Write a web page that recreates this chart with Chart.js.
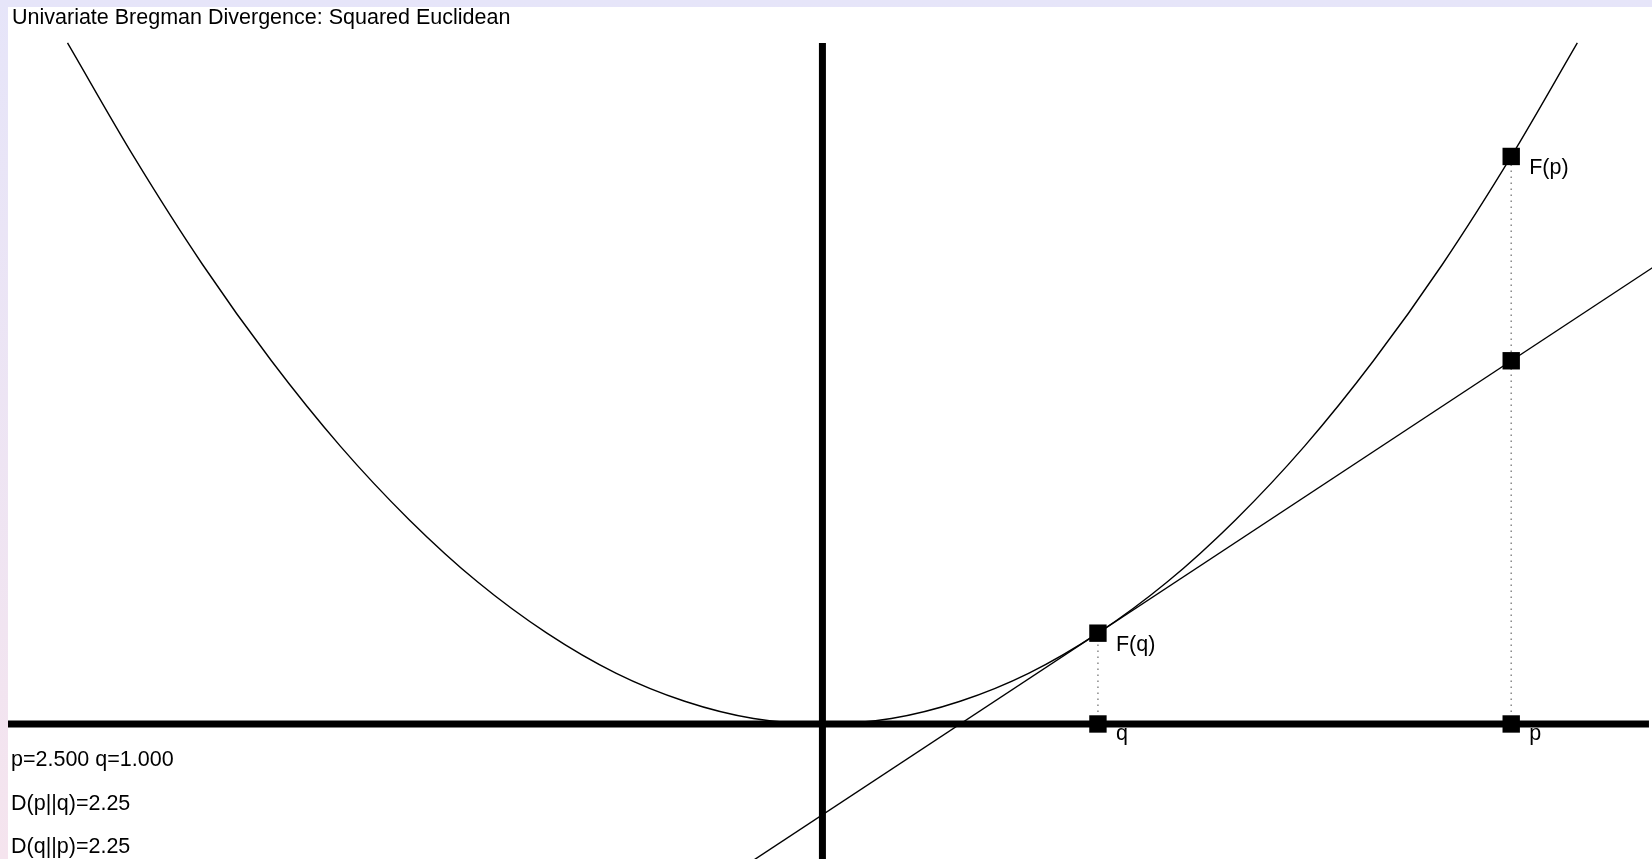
<!DOCTYPE html>
<html>
<head>
<meta charset="utf-8">
<script src="https://cdn.jsdelivr.net/npm/chart.js@4.4.1/dist/chart.umd.min.js"></script>
<style>
  html, body { margin: 0; padding: 0; width: 1652px; height: 859px; overflow: hidden; }
  body { background: linear-gradient(to bottom, #e6e5f9, #f5e4ee); }
  #chart { position: absolute; left: 8px; top: 7px; background: #fff; }
</style>
</head>
<body>
<canvas id="chart" width="1644" height="852"></canvas>
<script>
// F(x) = x^2
const curveX = [-2.74, -2.5, -2.25, -2, -1.75, -1.5, -1.25, -1, -0.75, -0.5, -0.25, 0,
                0.25, 0.5, 0.75, 1, 1.25, 1.5, 1.75, 2, 2.25, 2.5, 2.74];
const curveY = [7.5, 6.25, 5.06, 4.0, 3.06, 2.25, 1.56, 1.0, 0.56, 0.25, 0.06, 0,
                0.06, 0.25, 0.56, 1.0, 1.56, 2.25, 3.06, 4.0, 5.06, 6.25, 7.5];

// tangent at q
const tangentX = [-0.5, 3.5];
const tangentY = [-2.0, 6.0];

// axes
const axisHX = [-3.0, 3.0];
const axisVY = [7.5, -1.6];

// points
const pVal = 2.5, qVal = 1.0;
const markerX = [qVal, qVal, pVal, pVal, pVal];
const markerY = [0, 1.0, 0, 4.0, 6.25];
const markerLabels = ['q', 'F(q)', 'p', '', 'F(p)'];

const titleText = 'Univariate Bregman Divergence: Squared Euclidean';
const statLines = ['p=2.500 q=1.000', 'D(p||q)=2.25', 'D(q||p)=2.25'];

function pts(xs, ys) {
  return xs.map((x, i) => ({ x: x, y: ys[i] }));
}

const textPlugin = {
  id: 'texts',
  afterDatasetsDraw(chart) {
    const ctx = chart.ctx;
    ctx.save();
    ctx.fillStyle = '#000';
    ctx.font = '21.5px "Liberation Sans", Arial, sans-serif';
    ctx.textBaseline = 'alphabetic';
    ctx.textAlign = 'left';
    ctx.fillText(titleText, 4, 17);
    statLines.forEach((s, i) => ctx.fillText(s, 3, 759 + i * 43.5));
    const meta = chart.getDatasetMeta(0);
    meta.data.forEach((el, i) => {
      const lab = markerLabels[i];
      if (!lab) return;
      const dy = lab.startsWith('F') ? 18 : 16;
      ctx.fillText(lab, el.x + 18, el.y + dy);
    });
    ctx.restore();
  }
};

const line = { showLine: true, pointRadius: 0, borderColor: '#000', fill: false };

let context = document.querySelector('#chart').getContext('2d');
new Chart(context, {
  type: 'scatter',
  data: {
    datasets: [
      { data: pts(markerX, markerY), pointStyle: 'rect', pointRadius: 12.3,
        backgroundColor: '#000', borderWidth: 0, showLine: false, order: 0 },
      Object.assign({}, line, { data: pts(axisHX, [0, 0]), borderWidth: 7, order: 1 }),
      Object.assign({}, line, { data: pts([0, 0], axisVY), borderWidth: 7, order: 1 }),
      Object.assign({}, line, { data: pts([qVal, qVal], [0, 1.0]), borderColor: '#888',
        borderWidth: 1.5, borderDash: [1.5, 4.5], order: 2 }),
      Object.assign({}, line, { data: pts([pVal, pVal], [0, 6.25]), borderColor: '#888',
        borderWidth: 1.5, borderDash: [1.5, 4.5], order: 2 }),
      Object.assign({}, line, { data: pts(tangentX, tangentY), borderWidth: 1.4, order: 3 }),
      Object.assign({}, line, { data: pts(curveX, curveY), borderWidth: 1.4,
        cubicInterpolationMode: 'monotone', order: 4 })
    ]
  },
  options: {
    responsive: false,
    animation: false,
    layout: { padding: 0, autoPadding: false },
    plugins: { legend: { display: false }, tooltip: { enabled: false } },
    scales: {
      x: { type: 'linear', min: -2.956, max: 3.011, display: false },
      y: { type: 'linear', min: -1.487, max: 7.896, display: false }
    }
  },
  plugins: [textPlugin]
});
</script>
</body>
</html>
